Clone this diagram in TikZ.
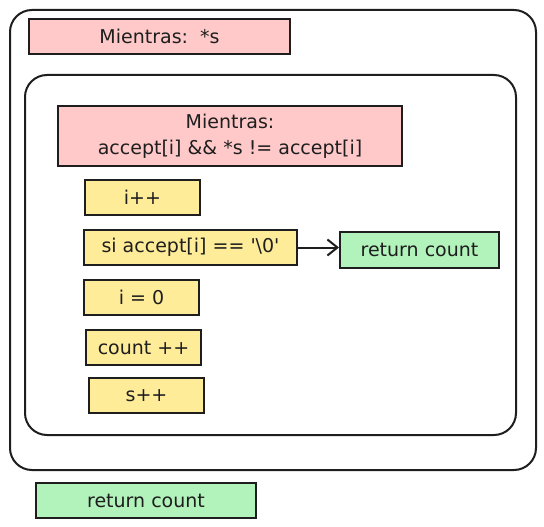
\documentclass[tikz,border=0pt]{standalone}
\usepackage{fontspec}
\setmainfont{DejaVu Sans}
\usetikzlibrary{arrows.meta}
\definecolor{pinkf}{HTML}{FFC9C9}
\definecolor{yellf}{HTML}{FFEC99}
\definecolor{greenf}{HTML}{B2F2BB}
\definecolor{ink}{HTML}{1E1E1E}
\tikzset{
  frame/.style={draw=ink, line width=2pt, rounded corners=22pt},
  box/.style={draw=ink, line width=2pt, font=\fontsize{19}{26}\selectfont, text=ink, inner sep=0pt, align=center},
  pinkbox/.style={box, fill=pinkf},
  yellbox/.style={box, fill=yellf},
  greenbox/.style={box, fill=greenf},
  conn/.style={draw=ink, line width=2pt, -{Straight Barb[length=10pt,width=16pt,line width=2pt]}}
}
\begin{document}
\begin{tikzpicture}[x=1pt,y=-1pt]
\useasboundingbox (0,0) rectangle (544,527);
\draw[frame] (10,10) rectangle (536,470);
\draw[frame] (25,75) rectangle (516,435);
\node[pinkbox, minimum width=261pt, minimum height=35pt] (w1) at (159.5,36.5) {Mientras:\ \ *s};
\node[pinkbox, minimum width=344pt, minimum height=60pt] (w2) at (230,136) {Mientras:\\accept[i] \&\& *s != accept[i]};
\node[yellbox, minimum width=115pt, minimum height=35pt] (ipp) at (142.5,197.5) {i++};
\node[yellbox, minimum width=213pt, minimum height=35pt] (si) at (190.5,247.5) {si accept[i] == \textquotesingle\textbackslash 0\textquotesingle};
\node[greenbox, minimum width=159pt, minimum height=36pt] (ret1) at (419.5,250) {return count};
\node[yellbox, minimum width=115pt, minimum height=35pt] (i0) at (141.5,297.5) {i = 0};
\node[yellbox, minimum width=115pt, minimum height=35pt] (cnt) at (143.5,347.5) {count ++};
\node[yellbox, minimum width=115pt, minimum height=35pt] (spp) at (146.5,395.5) {s++};
\node[greenbox, minimum width=220pt, minimum height=35pt] (ret2) at (146,500.5) {return count};
\draw[conn] (si.east) -- (si.east -| ret1.west);
\end{tikzpicture}
\end{document}
